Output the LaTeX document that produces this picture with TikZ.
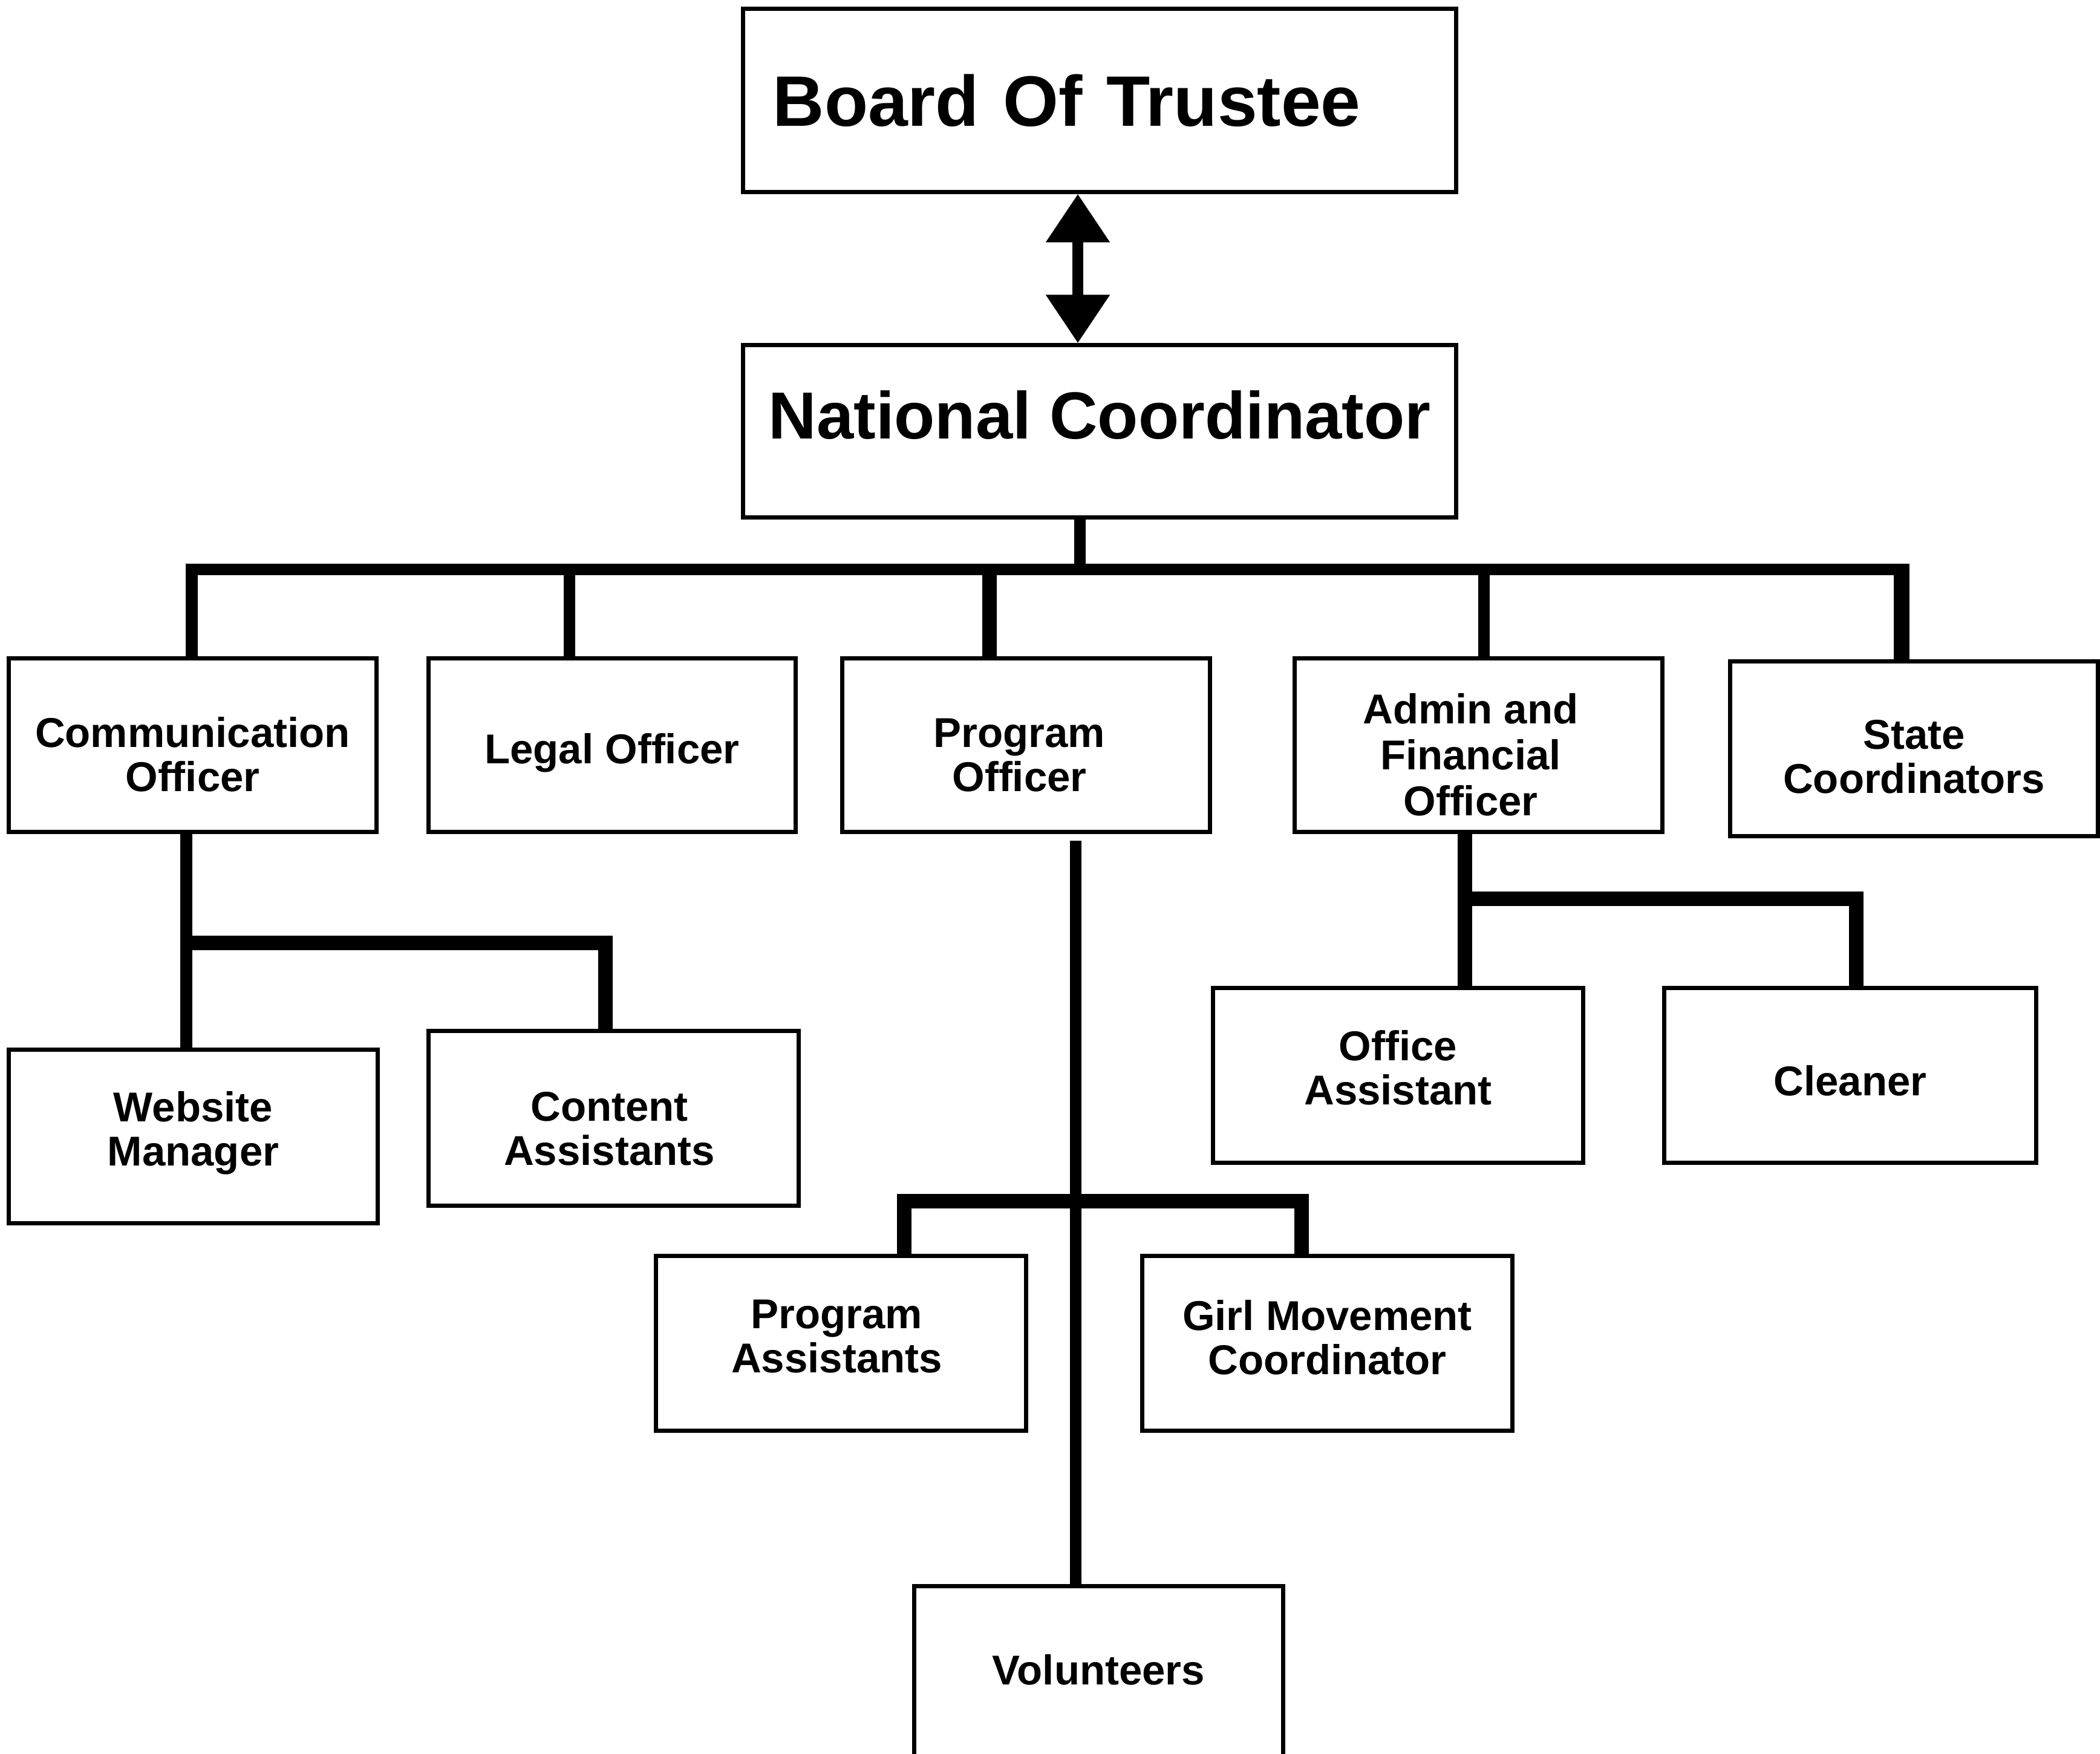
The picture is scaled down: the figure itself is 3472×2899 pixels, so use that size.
\documentclass[tikz,border=0pt]{standalone}
\usepackage{fontspec}
\setmainfont{Liberation Sans}
\usetikzlibrary{arrows.meta}
\tikzset{
  box/.style={draw, line width=0.07cm, fill=white, rectangle, inner sep=0pt, align=center,
    font=\bfseries\fontsize{19.6}{20.8}\selectfont},
  txt/.style={inner sep=0pt, align=center, font=\bfseries\fontsize{19.6}{20.8}\selectfont},
  bigbox/.style={box, font=\bfseries\fontsize{33.6}{36}\selectfont},
  conn/.style={line width=0.19cm, line join=miter, line cap=butt},
  connthick/.style={line width=0.24cm, line join=miter, line cap=butt},
  dblarrow/.style={line width=0.185cm, {Triangle[width=1.01cm,length=0.8cm]}-{Triangle[width=1.01cm,length=0.8cm]}}
}
\begin{document}
\begin{tikzpicture}[x=0.01cm, y=-0.01cm]
\fill[white] (0,0) rectangle (3472,2899);
\useasboundingbox (0,0) rectangle (3472,2899);

% top boxes
\node[bigbox, minimum width=11.78cm, minimum height=3.02cm, text width=10.8cm, inner xsep=0.49cm, align=left] (board) at (1818,166) {Board Of Trustee};
\node[bigbox, font=\bfseries\fontsize{31.3}{34}\selectfont, minimum width=11.78cm, minimum height=2.84cm, text height=0.8cm, text depth=0.55cm] (natl) at (1818,713) {National Coordinator};

% row 1
\node[box, minimum width=6.07cm, minimum height=2.86cm,
  label={[txt, name=commt, yshift=-0.15cm]center:Communication\\Officer}] (comm) at (318.5,1232) {};
\node[box, minimum width=6.06cm, minimum height=2.86cm,
  label={[txt, name=legalt, yshift=-0.13cm]center:Legal Officer}] (legal) at (1012,1232) {};
\node[box, minimum width=6.07cm, minimum height=2.86cm,
  label={[txt, name=progt, xshift=-0.11cm, yshift=-0.17cm]center:Program\\Officer}] (prog) at (1696.5,1232) {};
\node[box, minimum width=6.07cm, minimum height=2.86cm,
  label={[txt, name=admint, xshift=-0.13cm, yshift=-0.16cm, font=\bfseries\fontsize{19.6}{21.6}\selectfont]center:Admin and\\Financial\\Officer}] (admin) at (2444.5,1232) {};
\node[box, minimum width=6.07cm, minimum height=2.88cm,
  label={[txt, name=statet, yshift=-0.13cm]center:State\\Coordinators}] (state) at (3164.5,1238) {};

% row 2
\node[box, minimum width=6.09cm, minimum height=2.86cm,
  label={[txt, name=webt, yshift=0.06cm]center:Website\\Manager}] (web) at (319.5,1879) {};
\node[box, minimum width=6.11cm, minimum height=2.88cm,
  label={[txt, name=contentt, xshift=-0.07cm, yshift=-0.17cm]center:Content\\Assistants}] (content) at (1014.5,1849) {};
\node[box, minimum width=6.11cm, minimum height=2.88cm,
  label={[txt, name=officet, yshift=0.13cm]center:Office\\Assistant}] (office) at (2311.5,1778) {};
\node[box, minimum width=6.14cm, minimum height=2.88cm,
  label={[txt, name=cleanert, yshift=-0.09cm]center:Cleaner}] (cleaner) at (3059,1778) {};

% row 3
\node[box, minimum width=6.11cm, minimum height=2.88cm,
  label={[txt, name=passtt, xshift=-0.07cm, yshift=0.11cm]center:Program\\Assistants}] (passt) at (1390.5,2221) {};
\node[box, minimum width=6.11cm, minimum height=2.88cm,
  label={[txt, name=girlt, yshift=0.10cm]center:Girl Movement\\Coordinator}] (girl) at (2194.5,2221) {};

% volunteers (box runs past the bottom edge)
\node[box, anchor=north, minimum width=6.09cm, minimum height=4cm, text height=0.5cm, text depth=1.25cm] (vol) at (1816.5,2619) {Volunteers};

% arrow board <-> national
\coordinate (ax) at (1782,0);
\draw[dblarrow] (board.south -| ax) -- (natl.north -| ax);

% main bus
\coordinate (bus) at (1785,941);
\coordinate (b1) at (317,941);
\coordinate (b2) at (941,941);
\coordinate (b3) at (1636,941);
\coordinate (b4) at (2453,941);
\coordinate (b5) at (3144,941);
\draw[conn] (natl.south -| bus) -- (bus);
\draw[conn] (b1 |- comm.north) -- (b1) -- (b5);
\draw[conn] (b2) -- (b2 |- legal.north);
\draw[connthick] (b3) -- (b3 |- prog.north);
\draw[conn] (b4) -- (b4 |- admin.north);
\draw[line width=0.26cm] (b5) ++(0,-9) -- (b5 |- state.north);

% communication officer branch
\coordinate (cb) at (308,1559);
\coordinate (cc) at (1001,1559);
\draw[conn] (comm.south -| cb) -- (web.north -| cb);
\draw[connthick] (cb) -- (cc) -- (content.north -| cc);

% program officer branch
\coordinate (pl) at (1778,0);
\coordinate (pa) at (1495,1986);
\coordinate (pg) at (2152,1986);
\draw[conn, shorten <=0.11cm] (prog.south -| pl) -- (vol.north -| pl);
\draw[connthick] (pa |- passt.north) -- (pa) -- (pg) -- (pg |- girl.north);

% admin branch
\coordinate (aa) at (2422,1486);
\coordinate (ac) at (3069,1486);
\draw[connthick] (admin.south -| aa) -- (office.north -| aa);
\draw[connthick] (aa) -- (ac) -- (ac |- cleaner.north);
\end{tikzpicture}
\end{document}
